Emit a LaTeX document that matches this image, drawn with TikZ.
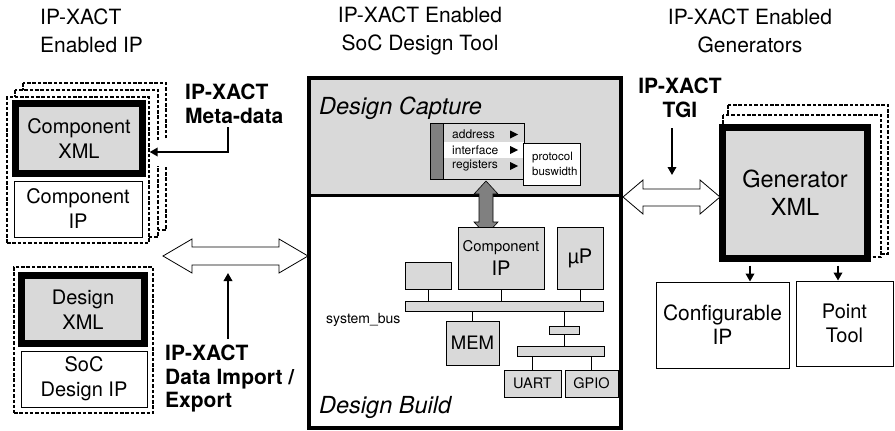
\documentclass[tikz,border=0pt]{standalone}
\usepackage{fontspec}
\setmainfont{TeX Gyre Heros}
\usetikzlibrary{arrows.meta}
\definecolor{lgray}{HTML}{D9D9D9}
\definecolor{dgray}{HTML}{808080}
\newcommand\fsz[2]{\fontsize{#1}{#2}\selectfont}
\begin{document}
\begin{tikzpicture}[x=1pt,y=-1pt,
  sz/.style 2 args={minimum width=#1pt, minimum height=#2pt},
  thinbox/.style={draw=black, line width=0.9pt, inner sep=0pt, fill=white},
  grbox/.style={draw=black, line width=0.9pt, inner sep=0pt, fill=lgray},
  xmlbox/.style={draw=black, line width=7pt, fill=lgray, inner sep=0pt},
  dashbox/.style={draw=black, line width=1.3pt, dash pattern=on 3.5pt off 1.8pt, fill=white, inner sep=0pt},
  arr/.style={draw=black, line width=1.8pt, -{Triangle[length=8pt,width=8.5pt]}},
  hollow/.style={draw=black, line width=0.8pt, fill=white},
  lnk/.style={draw=black, line width=0.9pt},
  hdr/.style={font=\fsz{21}{28}, align=center, inner sep=0pt},
  lbl/.style={font=\fsz{21}{23.5}\bfseries, align=left, inner sep=0pt},
  btxt/.style={font=\fsz{20}{25}, align=center},
  rowtxt/.style={font=\fsz{12}{14}, inner sep=0pt, anchor=west},
  tri/.style={fill=black}
]
\useasboundingbox (0,0) rectangle (895,431);

% ---------- headers ----------
\node[hdr, align=left, anchor=west] (h1) at (40,31) {IP-XACT\\Enabled IP};
\node[hdr] (h2) at (420,31) {IP-XACT Enabled\\SoC Design Tool};
\node[hdr] (h3) at (750,31) {IP-XACT Enabled\\Generators};

% ---------- left: component stack ----------
\draw[dashbox] (23,83) rectangle (166,230);
\draw[dashbox] (15,90) rectangle (158,237);
\node[dashbox, sz={142}{146}] (cstack) at (78,170) {};
\node[xmlbox, sz={127}{70}, btxt] (cxml) at (79,138.5) {Component\\XML};
\node[thinbox, sz={128}{56}, btxt] (cip) at (78,209) {Component\\IP};

% ---------- left: design stack ----------
\node[dashbox, sz={139}{146}] (dstack) at (83.5,340) {};
\node[xmlbox, sz={123}{68}, btxt] (dxml) at (83,309.5) {Design\\XML};
\node[thinbox, sz={126}{56}, btxt] (sip) at (84,379) {SoC\\Design IP};

% meta-data label and arrow
\node[lbl, anchor=west] (meta) at (185,104) {IP-XACT\\Meta-data};
\coordinate (metaA) at (228,127);
\coordinate (metaB) at (228,152);
\fill[white] (151,140) rectangle (171,166);
\draw[arr] (metaA) -- (metaB) -- (cstack.east |- metaB);

% left hollow double arrow
\draw[hollow] (163,256) -- (192,239) -- (192,247) -- (279,247) -- (279,239) -- (308,256)
  -- (279,273) -- (279,265) -- (192,265) -- (192,273) -- cycle;

% import label and arrow
\node[lbl, anchor=west] (imp) at (165,379) {IP-XACT\\Data Import /\\Export};
\coordinate (impA) at (228,339);
\coordinate (impB) at (228,273);
\draw[arr] (impA) -- (impB);

% ---------- center tool box ----------
\fill[white] (309,78) rectangle (621,428);
\fill[lgray] (309,78) rectangle (621,195);
\draw[line width=3pt] (309,195) -- (621,195);
\node[draw=black, line width=3.5pt, sz={312}{350}, inner sep=0pt] (tool) at (465,253) {};

\node[font=\fsz{23.5}{26}\itshape, anchor=base west, inner sep=0pt] (cap) at (319,114) {Design Capture};
\node[font=\fsz{23.5}{26}\itshape, anchor=base west, inner sep=0pt] (bld) at (319,413) {Design Build};

% register block
\node[draw=black, line width=0.8pt, fill=dgray, sz={13}{56}, inner sep=0pt] (rbar) at (436.5,151) {};
\node[grbox, sz={81}{56}] (rbox) at (483.5,151) {};
\fill[white] (443.5,142) rectangle (523.5,158);
\node[rowtxt] (ra) at (452,134) {address};
\node[rowtxt] (ri) at (452,150) {interface};
\node[rowtxt] (rr) at (452,166) {registers};
\fill[tri] (510,130.5) -- (518,134.5) -- (510,138.5) -- cycle;
\fill[tri] (510,146) -- (518,150) -- (510,154) -- cycle;
\fill[tri] (510,162) -- (518,166) -- (510,170) -- cycle;
\node[thinbox, sz={57}{42}] (pbox) at (551.5,164) {};
\node[font=\fsz{11.5}{15}, align=left, anchor=west, inner sep=0pt] (ptxt) at (532,164) {protocol\\buswidth};

% gray vertical double arrow
\draw[draw=black, line width=0.6pt, fill=dgray] (486,181) -- (498,194) -- (493,194) -- (493,222) -- (498,222)
  -- (486,235) -- (474,222) -- (479,222) -- (479,194) -- (474,194) -- cycle;

% design build components
\node[grbox, sz={86}{62}, align=center] (bcip) at (501,258) {{\fsz{14.8}{18}Component}\\[5pt]{\fsz{20}{22}IP}};
\node[grbox, sz={46}{62}, font=\fsz{20}{22}] (up) at (580,258) {µP};
\node[grbox, sz={46}{27}] (sbox) at (428,275.5) {};
\node[grbox, sz={198}{10}] (bus) at (504,306) {};
\node[grbox, sz={53}{44}, font=\fsz{18.5}{22}] (mem) at (472.5,343) {MEM};
\node[grbox, sz={30}{8}] (brg) at (564,330) {};
\node[grbox, sz={87}{10}] (bus2) at (560.5,351) {};
\node[grbox, sz={57}{27}, font=\fsz{14.5}{18}] (uart) at (532.5,383.5) {UART};
\node[grbox, sz={53}{27}, font=\fsz{14.5}{18}] (gpio) at (591.5,383.5) {GPIO};
\node[font=\fsz{14}{16}, anchor=west, inner sep=0pt] (sbl) at (326,320) {system\_bus};

\draw[lnk] (sbox.south) -- (sbox.south |- bus.north);
\draw[lnk] (bcip.south) -- (bcip.south |- bus.north);
\draw[lnk] (up.south) -- (up.south |- bus.north);
\draw[lnk] (mem.north) -- (mem.north |- bus.south);
\draw[lnk] (brg.north) -- (brg.north |- bus.south);
\draw[lnk] (brg.south) -- (brg.south |- bus2.north);
\draw[lnk] (uart.north) -- (uart.north |- bus2.south);
\draw[lnk] (gpio.north) -- (gpio.north |- bus2.south);

% ---------- right: generators ----------
\draw[dashbox] (728,105) rectangle (888,254);
\draw[dashbox] (723,115) rectangle (881,257);
\node[xmlbox, sz={145}{131}, font=\fsz{23.5}{28}, align=center] (gxml) at (795,193) {Generator\\XML};
\node[thinbox, sz={133}{86}, font=\fsz{21}{24}, align=center] (cfg) at (722.5,325) {Configurable\\IP};
\node[thinbox, sz={97}{85}, font=\fsz{20}{23.5}, align=center] (pt) at (844.5,323.5) {Point\\Tool};
\draw[arr] (gxml.south -| cfg.north) ++(27.5,3.5) coordinate (g1) -- (g1 |- cfg.north);
\draw[arr] (gxml.south -| pt.north) ++(-6.5,3.5) coordinate (g2) -- (g2 |- pt.north);

% TGI
\node[lbl, align=center] (tgi) at (680,98) {IP-XACT\\TGI};
\coordinate (tgiA) at (672,128);
\coordinate (tgiB) at (672,175);
\draw[arr] (tgiA) -- (tgiB);
\draw[hollow] (623,197) -- (643,180) -- (643,189) -- (700,189) -- (700,180) -- (720,197)
  -- (700,214) -- (700,206) -- (643,206) -- (643,214) -- cycle;
\end{tikzpicture}
\end{document}
